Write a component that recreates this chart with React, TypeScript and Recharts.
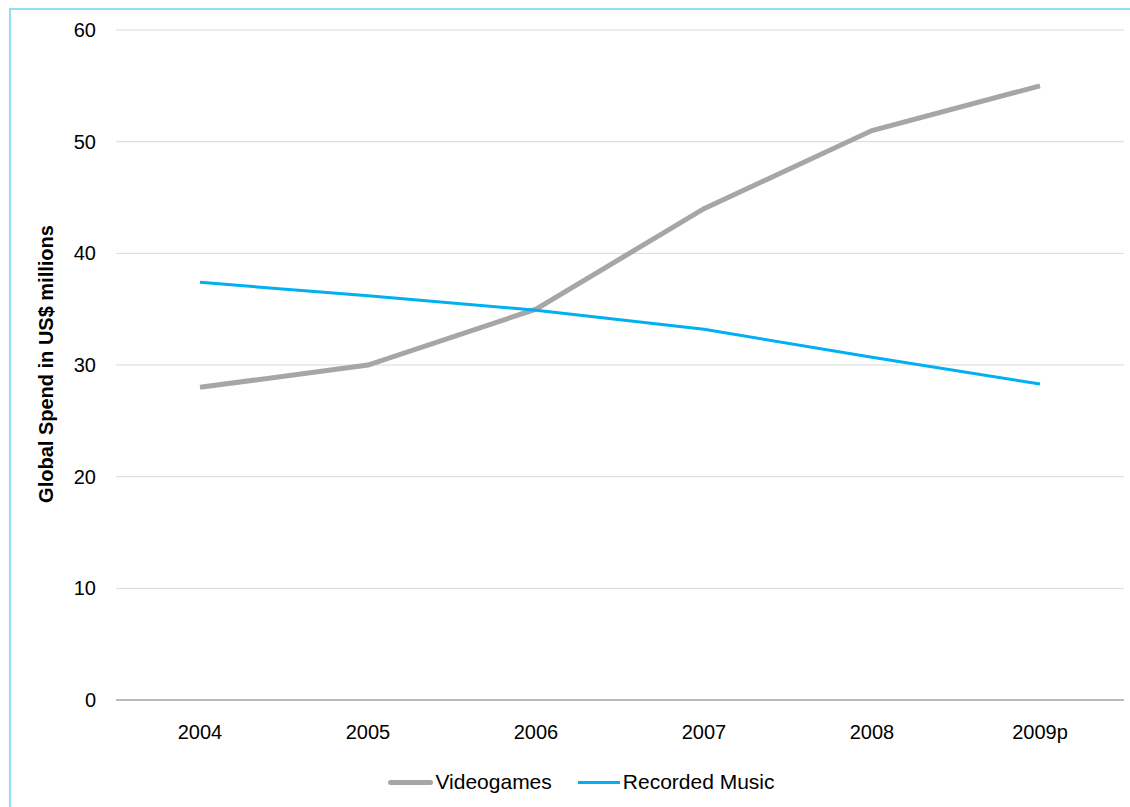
import React from 'react';
import {
  LineChart,
  Line,
  XAxis,
  YAxis,
  CartesianGrid,
} from 'recharts';

const years = ['2004', '2005', '2006', '2007', '2008', '2009p'];
const videogames = [28, 30, 35, 44, 51, 55];
const recordedMusic = [37.4, 36.2, 34.9, 33.2, 30.7, 28.3];
const yTicks = [0, 10, 20, 30, 40, 50, 60];

const data = years.map((year, i) => ({
  year,
  videogames: videogames[i],
  music: recordedMusic[i],
}));

const FONT = '"Liberation Sans", Arial, sans-serif';

const ChartLegend = () => (
  <div
    style={{
      position: 'absolute',
      left: 0,
      top: 770,
      width: 1130,
      display: 'flex',
      justifyContent: 'center',
      fontFamily: FONT,
      fontSize: 21,
      color: '#000',
      paddingLeft: 33,
      boxSizing: 'border-box',
    }}
  >
    <div style={{ display: 'flex', alignItems: 'center', marginRight: 26 }}>
      <span style={{ width: 45, height: 5, background: '#a6a6a6', borderRadius: 3, display: 'inline-block' }} />
      <span style={{ marginLeft: 2 }}>Videogames</span>
    </div>
    <div style={{ display: 'flex', alignItems: 'center' }}>
      <span style={{ width: 42, height: 3, background: '#00b0f0', display: 'inline-block' }} />
      <span style={{ marginLeft: 3 }}>Recorded Music</span>
    </div>
  </div>
);

const App: React.FC = () => {
  return (
    <div style={{ position: 'absolute', left: 0, top: 0, width: 1130, height: 807, background: '#fff', overflow: 'hidden' }}>
      {/* light blue frame, only top and left edges visible */}
      <div
        style={{
          position: 'absolute',
          left: 9,
          top: 8,
          width: 1200,
          height: 900,
          borderLeft: '2px solid #93dcf3',
          borderTop: '2px solid #93dcf3',
        }}
      />
      <div style={{ position: 'absolute', left: 0, top: 0 }}>
        <LineChart width={1130} height={807} data={data} margin={{ top: 30, right: 6, bottom: 77, left: 0 }}>
          <CartesianGrid vertical={false} stroke="#d9d9d9" />
          <XAxis
            dataKey="year"
            height={30}
            padding={{ left: 84, right: 84 }}
            tickLine={false}
            tickSize={0}
            tickMargin={25}
            stroke="#868686"
            tick={{ fill: '#000', fontSize: 20, fontFamily: FONT }}
          />
          <YAxis
            width={116}
            domain={[0, 60]}
            ticks={yTicks}
            axisLine={false}
            tickLine={false}
            tickSize={0}
            tickMargin={20}
            tick={{ fill: '#000', fontSize: 20, fontFamily: FONT }}
          />
          <text
            x={48}
            y={364}
            transform="rotate(-90 48 364)"
            textAnchor="middle"
            dominantBaseline="middle"
            fontFamily={FONT}
            fontWeight="bold"
            fontSize={20}
            fill="#000"
          >
            Global Spend in US$ millions
          </text>
          <Line
            type="linear"
            dataKey="videogames"
            name="Videogames"
            stroke="#a6a6a6"
            strokeWidth={5}
            dot={false}
            isAnimationActive={false}
          />
          <Line
            type="linear"
            dataKey="music"
            name="Recorded Music"
            stroke="#00b0f0"
            strokeWidth={3}
            dot={false}
            isAnimationActive={false}
          />
        </LineChart>
      </div>
      <ChartLegend />
    </div>
  );
};

export default App;
